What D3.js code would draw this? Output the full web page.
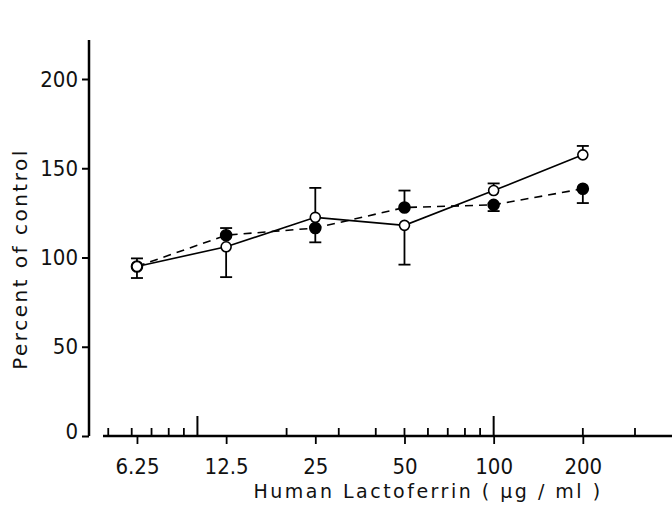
<!DOCTYPE html>
<html>
<head>
<meta charset="utf-8">
<script src="https://cdn.jsdelivr.net/npm/d3@7"></script>
<style>
  body { margin: 0; background: #fff; }
  .tick-label { font-family: "Liberation Sans Narrow", "DejaVu Sans Condensed", sans-serif; font-size: 22px; fill: #111; }
  .axis-title { font-family: "DejaVu Sans", sans-serif; font-size: 19px; fill: #111; letter-spacing: 2.5px; }
</style>
</head>
<body>
<div id="chart"></div>
<script>
// Concentrations (µg/ml)
var doses = [6.25, 12.5, 25, 50, 100, 200];

// Open circles, solid line
var openMeans = [95, 106, 122.5, 118, 137.5, 157.5];
var openUpper = [99.5, null, 139, null, 141.5, 162.5];
var openLower = [88.5, 89, null, 96, null, null];

// Filled circles, dashed line
var filledMeans = [95, 112.5, 116.5, 128, 129.5, 138.5];
var filledUpper = [null, 116.5, null, 137.5, null, null];
var filledLower = [null, null, 108.5, null, 126, 130.5];

var yTicks = [0, 50, 100, 150, 200];
var xMinorTicks = [5, 6, 7, 8, 9, 20, 30, 40, 50, 60, 70, 80, 90, 200, 300];
var xLongTicks = [10, 100];

var width = 672, height = 505;

var svg = d3.select("#chart").append("svg")
    .attr("width", width)
    .attr("height", height);

// Scales
var x = d3.scaleLog()
    .domain([4.8, 400])
    .range([103, 672]);
var y = d3.scaleLinear()
    .domain([0, 200])
    .range([436, 79]);

var axisX = 89;
var axisY = 436;

// Y axis line and ticks
svg.append("line")
    .attr("x1", axisX).attr("x2", axisX)
    .attr("y1", 40).attr("y2", axisY)
    .attr("stroke", "#000").attr("stroke-width", 2.5);

var yAxis = d3.axisLeft(y)
    .tickValues(yTicks)
    .tickSize(7)
    .tickPadding(4);
var gy = svg.append("g")
    .attr("transform", "translate(" + axisX + ",0)")
    .call(yAxis);
gy.select(".domain").remove();
gy.selectAll(".tick line").attr("stroke", "#000").attr("stroke-width", 2);
gy.selectAll(".tick text").attr("class", "tick-label").attr("font-family", null).attr("font-size", null);
// the hand-lettered 0 sits a little above its tick
gy.selectAll(".tick text").filter(function(d) { return d === 0; }).attr("y", -5);

// X axis line
svg.append("line")
    .attr("x1", 103).attr("x2", 672)
    .attr("y1", axisY).attr("y2", axisY)
    .attr("stroke", "#000").attr("stroke-width", 2.5);

// minor (upward) ticks
svg.selectAll(".xminor")
    .data(xMinorTicks)
    .enter().append("line")
    .attr("class", "xminor")
    .attr("x1", function(d) { return x(d); })
    .attr("x2", function(d) { return x(d); })
    .attr("y1", axisY).attr("y2", axisY - 8)
    .attr("stroke", "#000").attr("stroke-width", 1.8);

svg.selectAll(".xlong")
    .data(xLongTicks)
    .enter().append("line")
    .attr("class", "xlong")
    .attr("x1", function(d) { return x(d); })
    .attr("x2", function(d) { return x(d); })
    .attr("y1", axisY).attr("y2", axisY - 20)
    .attr("stroke", "#000").attr("stroke-width", 2);

// labelled (downward) ticks
var xAxis = d3.axisBottom(x)
    .tickValues(doses)
    .tickSize(8)
    .tickPadding(14)
    .tickFormat(function(d) { return String(d); });
var gx = svg.append("g")
    .attr("transform", "translate(0," + axisY + ")")
    .call(xAxis);
gx.select(".domain").remove();
gx.selectAll(".tick line").attr("stroke", "#000").attr("stroke-width", 1.8);
gx.selectAll(".tick text").attr("class", "tick-label").attr("font-family", null).attr("font-size", null);

// Axis titles
svg.append("text")
    .attr("class", "axis-title")
    .attr("x", 428)
    .attr("y", 498)
    .attr("text-anchor", "middle")
    .text("Human Lactoferrin  (  µg / ml  )");

svg.append("text")
    .attr("class", "axis-title")
    .attr("transform", "translate(27,259) rotate(-90)")
    .attr("text-anchor", "middle")
    .style("font-size", "20px")
    .style("letter-spacing", "2.5px")
    .text("Percent of control");

// Series
function drawSeries(means, upper, lower, filled, dashed) {
    var pts = doses.map(function(d, i) {
        return { x: d, y: means[i], hi: upper[i], lo: lower[i] };
    });

    var line = d3.line()
        .x(function(d) { return x(d.x); })
        .y(function(d) { return y(d.y); });

    svg.append("path")
        .datum(pts)
        .attr("d", line)
        .attr("fill", "none")
        .attr("stroke", "#000")
        .attr("stroke-width", 1.6)
        .attr("stroke-dasharray", dashed ? "8,6" : null);

    pts.forEach(function(p) {
        [p.hi, p.lo].forEach(function(e) {
            if (e == null) return;
            svg.append("line")
                .attr("x1", x(p.x)).attr("x2", x(p.x))
                .attr("y1", y(p.y)).attr("y2", y(e))
                .attr("stroke", "#000").attr("stroke-width", 1.8);
            svg.append("line")
                .attr("x1", x(p.x) - 6).attr("x2", x(p.x) + 6)
                .attr("y1", y(e)).attr("y2", y(e))
                .attr("stroke", "#000").attr("stroke-width", 1.8);
        });
    });

    svg.selectAll(null)
        .data(pts)
        .enter().append("circle")
        .attr("cx", function(d) { return x(d.x); })
        .attr("cy", function(d) { return y(d.y); })
        .attr("r", filled ? 5.5 : 5)
        .attr("fill", filled ? "#000" : "#fff")
        .attr("stroke", "#000")
        .attr("stroke-width", 1.6);
}

drawSeries(filledMeans, filledUpper, filledLower, true, true);
drawSeries(openMeans, openUpper, openLower, false, false);
</script>
</body>
</html>
